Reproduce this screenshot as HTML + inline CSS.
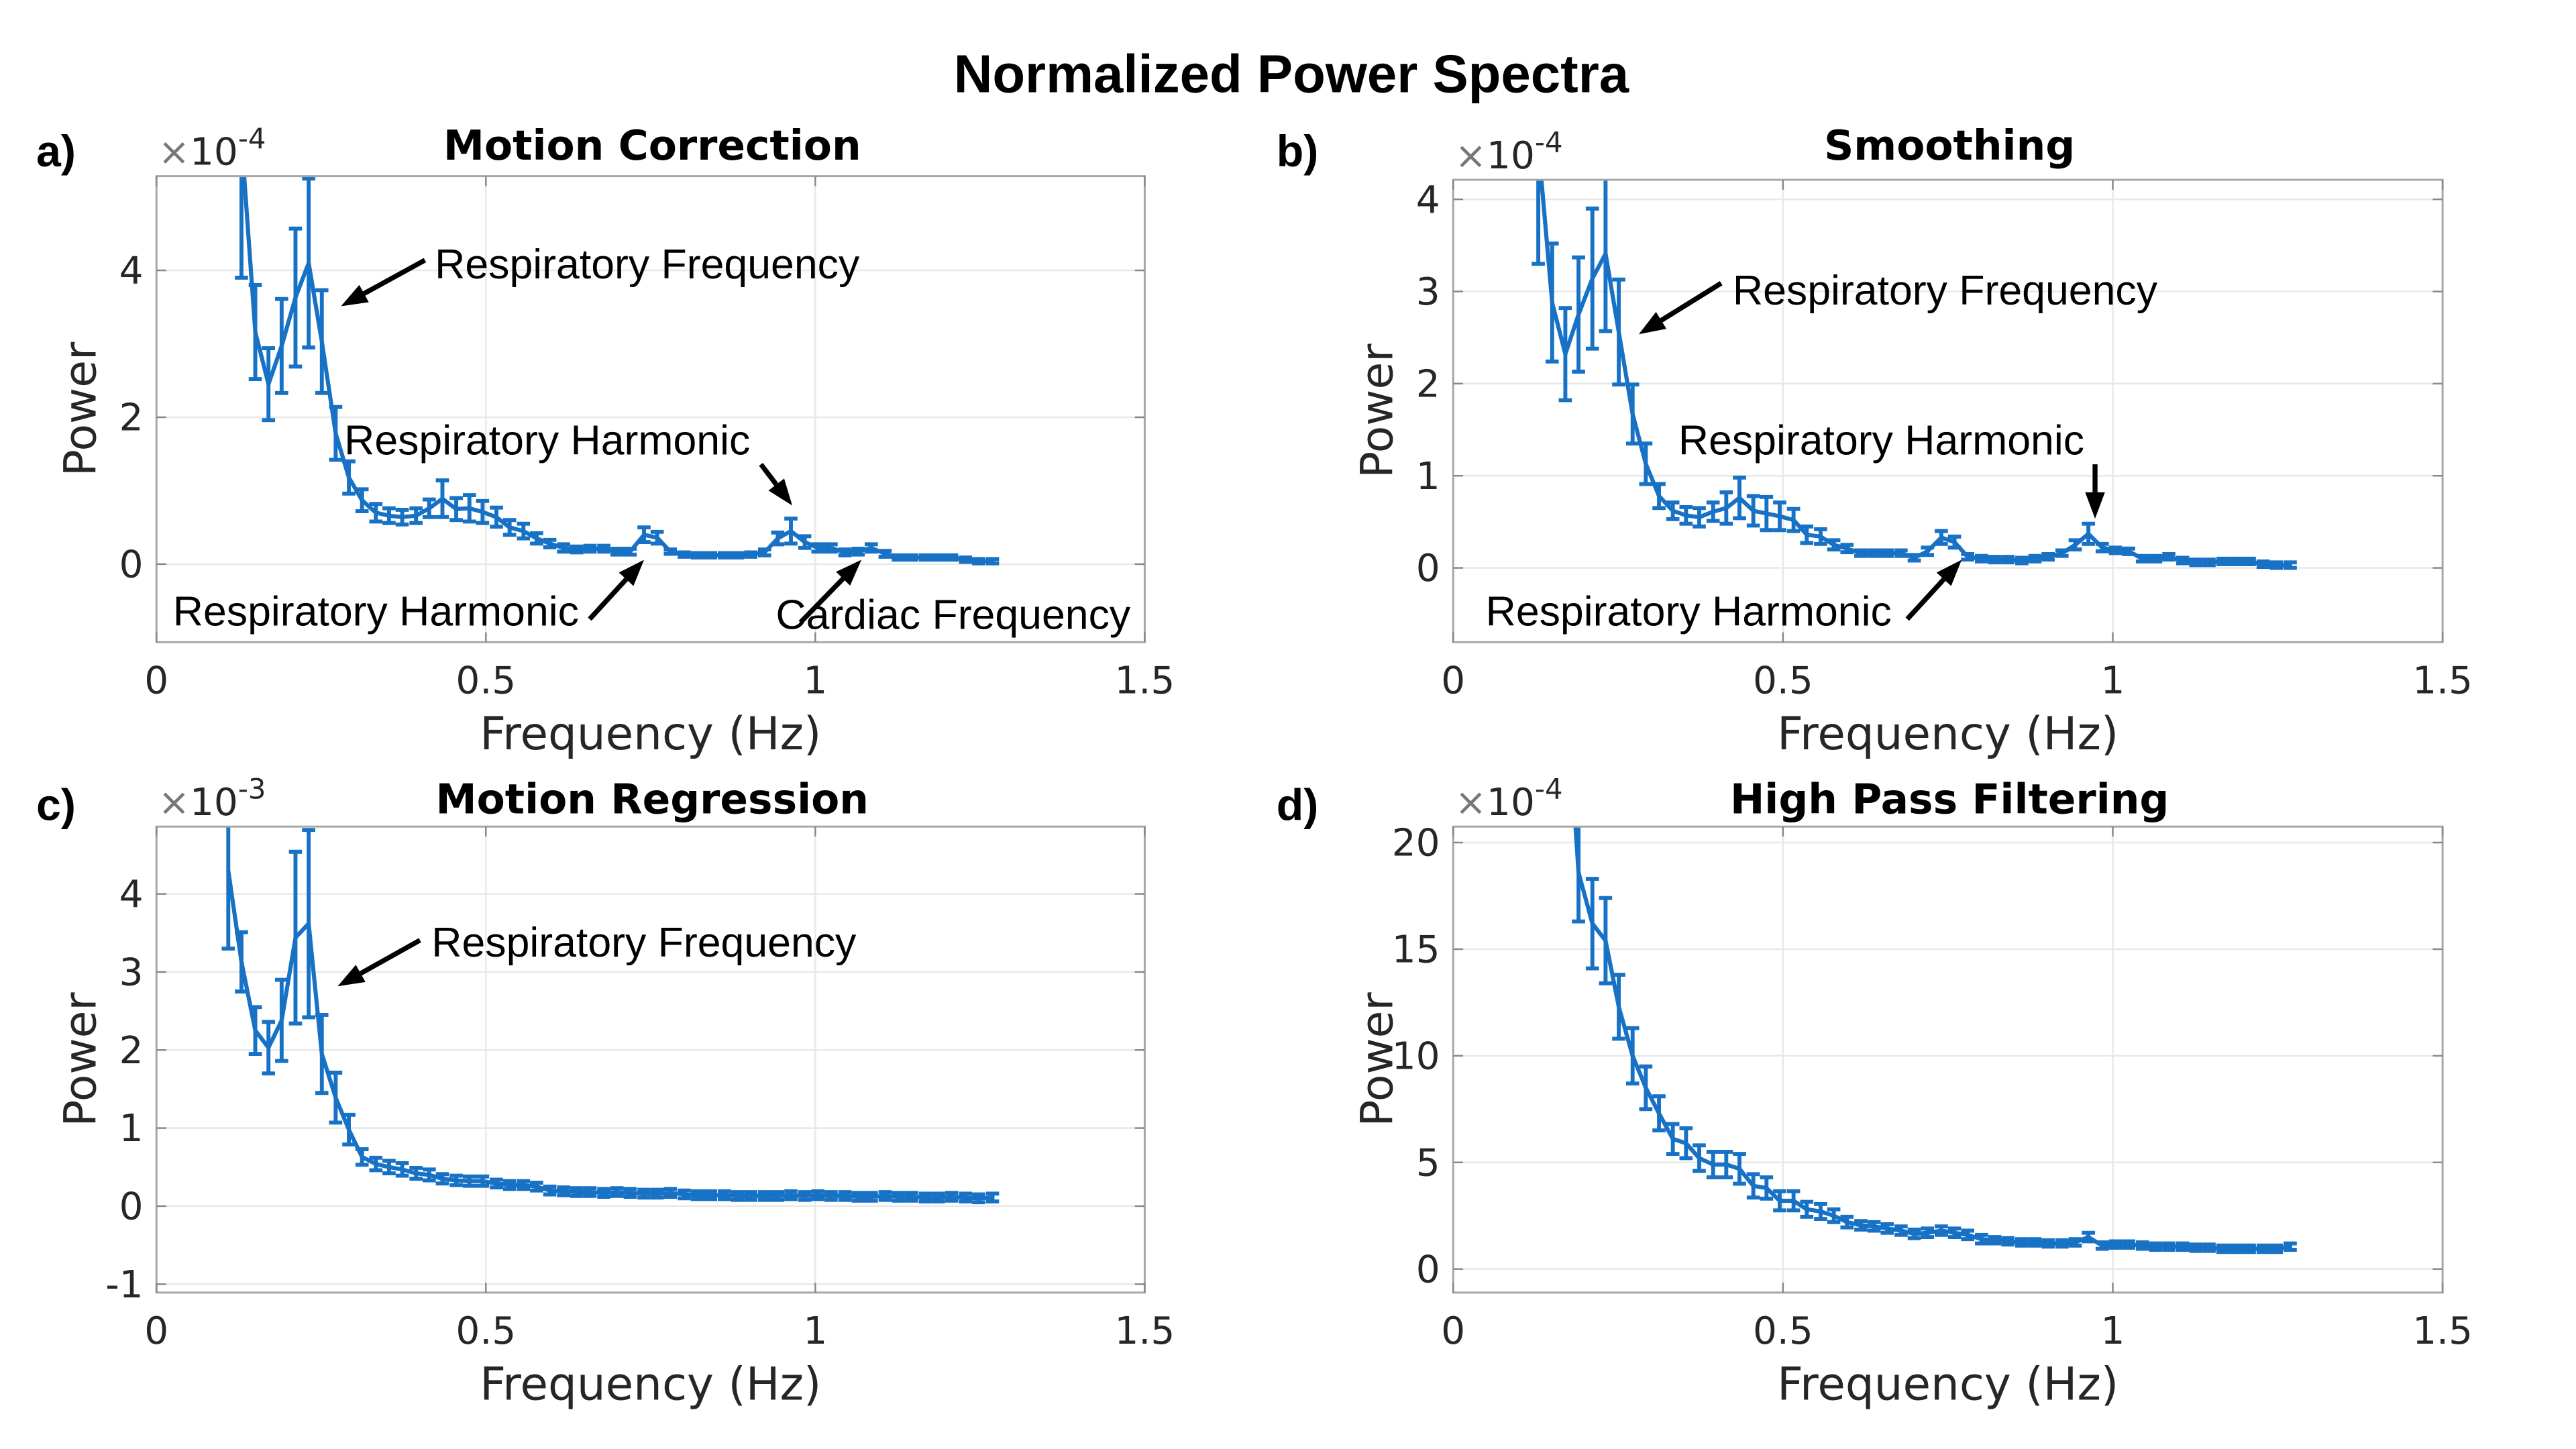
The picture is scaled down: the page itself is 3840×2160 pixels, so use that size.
<!DOCTYPE html>
<html><head><meta charset="utf-8"><style>
html,body{margin:0;padding:0;background:#fff}
svg{display:block}
</style></head><body>
<svg id="fig" xmlns="http://www.w3.org/2000/svg" width="3840" height="2160" viewBox="0 0 1564 880" preserveAspectRatio="none">
<rect width="1564" height="880" fill="#fff"/>
<text x="784" y="56" text-anchor="middle" font-family="Liberation Sans, Arial, sans-serif" font-weight="bold" font-size="32.5">Normalized Power Spectra</text>
</svg>
<script>
const freqs = [0.109,0.129,0.150,0.170,0.190,0.211,0.231,0.251,0.272,0.292,0.312,0.333,0.353,0.373,0.394,0.414,0.434,0.455,0.475,0.495,0.516,0.536,0.557,0.577,0.597,0.618,0.638,0.658,0.679,0.699,0.719,0.740,0.760,0.780,0.801,0.821,0.841,0.862,0.882,0.902,0.923,0.943,0.963,0.984,1.004,1.024,1.045,1.065,1.085,1.106,1.126,1.146,1.167,1.187,1.207,1.228,1.248,1.269];
const powerA = [null,5.8,3.16,2.45,2.97,3.63,4.1,3.03,1.78,1.18,0.87,0.70,0.66,0.64,0.66,0.76,0.89,0.75,0.76,0.71,0.64,0.50,0.45,0.35,0.28,0.22,0.20,0.21,0.21,0.17,0.17,0.40,0.36,0.17,0.13,0.12,0.12,0.12,0.12,0.13,0.16,0.35,0.45,0.30,0.22,0.22,0.16,0.17,0.22,0.14,0.09,0.09,0.09,0.09,0.09,0.06,0.04,0.04];
const errA = [null,1.9,0.64,0.49,0.64,0.94,1.15,0.7,0.36,0.22,0.15,0.12,0.1,0.1,0.1,0.12,0.25,0.15,0.18,0.15,0.13,0.1,0.1,0.07,0.05,0.05,0.04,0.04,0.04,0.04,0.04,0.1,0.08,0.03,0.03,0.03,0.03,0.03,0.03,0.03,0.04,0.08,0.17,0.08,0.05,0.05,0.04,0.04,0.05,0.04,0.03,0.03,0.03,0.03,0.03,0.03,0.03,0.03];
const powerB = [null,4.6,2.88,2.32,2.75,3.14,3.41,2.56,1.67,1.13,0.78,0.62,0.57,0.55,0.61,0.65,0.76,0.62,0.59,0.56,0.52,0.36,0.34,0.25,0.21,0.16,0.16,0.16,0.16,0.11,0.18,0.33,0.28,0.12,0.10,0.09,0.09,0.08,0.10,0.12,0.16,0.25,0.37,0.22,0.19,0.18,0.10,0.10,0.12,0.08,0.06,0.06,0.07,0.07,0.07,0.04,0.03,0.03];
const errB = [null,1.3,0.64,0.5,0.62,0.76,0.84,0.57,0.32,0.22,0.13,0.09,0.09,0.1,0.1,0.17,0.22,0.16,0.18,0.15,0.12,0.09,0.08,0.05,0.04,0.03,0.03,0.03,0.03,0.03,0.04,0.07,0.06,0.03,0.03,0.03,0.03,0.03,0.03,0.03,0.03,0.05,0.11,0.04,0.03,0.03,0.03,0.03,0.03,0.03,0.03,0.03,0.03,0.03,0.03,0.03,0.03,0.03];
const powerC = [4.3,3.13,2.25,2.03,2.38,3.44,3.62,1.95,1.39,0.98,0.63,0.54,0.50,0.47,0.42,0.40,0.35,0.33,0.32,0.32,0.29,0.27,0.27,0.25,0.20,0.19,0.18,0.18,0.17,0.18,0.17,0.16,0.16,0.17,0.15,0.14,0.14,0.14,0.13,0.13,0.13,0.13,0.14,0.13,0.14,0.13,0.13,0.12,0.12,0.13,0.12,0.12,0.11,0.11,0.12,0.11,0.10,0.11];
const errC = [1.0,0.38,0.3,0.33,0.52,1.1,1.2,0.5,0.32,0.19,0.1,0.08,0.08,0.08,0.07,0.07,0.06,0.06,0.06,0.06,0.05,0.05,0.05,0.05,0.05,0.05,0.05,0.05,0.05,0.05,0.05,0.05,0.05,0.05,0.05,0.05,0.05,0.05,0.05,0.05,0.05,0.05,0.05,0.05,0.05,0.05,0.05,0.05,0.05,0.05,0.05,0.05,0.05,0.05,0.05,0.05,0.05,0.05];
const powerD = [null,null,null,28,18.6,16.2,15.4,12.3,10.0,8.5,7.3,6.1,5.9,5.2,4.9,4.9,4.7,3.9,3.8,3.2,3.2,2.8,2.7,2.5,2.2,2.05,2.0,1.9,1.8,1.65,1.7,1.8,1.7,1.6,1.4,1.35,1.3,1.25,1.25,1.2,1.2,1.25,1.5,1.1,1.15,1.15,1.1,1.05,1.05,1.05,1.0,1.0,0.95,0.95,0.95,0.95,0.95,1.05];
const errD = [null,null,null,3,2.3,2.1,2.0,1.5,1.3,1.0,0.8,0.7,0.7,0.6,0.6,0.6,0.7,0.55,0.5,0.45,0.45,0.35,0.35,0.3,0.25,0.2,0.2,0.2,0.2,0.2,0.2,0.2,0.2,0.2,0.2,0.15,0.15,0.15,0.15,0.15,0.15,0.15,0.2,0.15,0.15,0.15,0.15,0.15,0.15,0.15,0.15,0.15,0.15,0.15,0.15,0.15,0.15,0.15];
const xTicks = [0,0.5,1,1.5];
const xTickLabels = ["0","0.5","1","1.5"];
const yTicksA = [0,2,4];
const yTicksB = [0,1,2,3,4];
const yTicksC = [-1,0,1,2,3,4];
const yTicksD = [0,5,10,15,20];

const NS = "http://www.w3.org/2000/svg";
const svg = document.getElementById('fig');
const BLUE = "#1771c4";
function mk(tag, attrs, parent) {
  const e = document.createElementNS(NS, tag);
  for (const k in attrs) e.setAttribute(k, attrs[k]);
  (parent || svg).appendChild(e);
  return e;
}
const panels = [
  {id:'a', letter:'a)', title:'Motion Correction', exp:'-4', L:95, R:695, T:107, B:390, y0:342.6, yu:44.6, ticks:yTicksA, p:powerA, e:errA, lx:22, ly:101, ty:97},
  {id:'b', letter:'b)', title:'Smoothing', exp:'-4', L:882.3, R:1483, T:109.2, B:390, y0:344.9, yu:55.96, ticks:yTicksB, p:powerB, e:errB, lx:775, ly:101, ty:97},
  {id:'c', letter:'c)', title:'Motion Regression', exp:'-3', L:95, R:695, T:502, B:785, y0:732.5, yu:47.4, ticks:yTicksC, p:powerC, e:errC, lx:22, ly:498, ty:494},
  {id:'d', letter:'d)', title:'High Pass Filtering', exp:'-4', L:882.3, R:1483, T:502, B:785, y0:770.7, yu:12.95, ticks:yTicksD, p:powerD, e:errD, lx:775, ly:498, ty:494}
];
const TF = "DejaVu Sans, Liberation Sans, sans-serif";
panels.forEach(P => {
  const g = mk('g', {});
  
  
  const xs = f => P.L + (P.R - P.L) * f / 1.5;
  const ys = v => P.y0 - v * P.yu;
  const defs = mk('defs', {}, g);
  const cp = mk('clipPath', {id: 'clip-' + P.id}, defs);
  mk('rect', {x: P.L, y: P.T, width: P.R - P.L, height: P.B - P.T}, cp);
  mk('rect', {x: P.L, y: P.T, width: P.R - P.L, height: P.B - P.T, fill: '#fff'}, g);
  xTicks.forEach(t => {
    const gl = mk('line', {x1: xs(t), x2: xs(t), y1: P.T, y2: P.B, stroke: '#e8e8e8', 'stroke-width': 1}, g);
    
    
  });
  P.ticks.forEach(t => {
    const gl = mk('line', {x1: P.L, x2: P.R, y1: ys(t), y2: ys(t), stroke: '#e8e8e8', 'stroke-width': 1}, g);
    
    
  });
  const dg = mk('g', {'clip-path': 'url(#clip-' + P.id + ')'}, g);
  
  
  let d = '';
  let pen = false;
  freqs.forEach((f, i) => {
    const v = P.p[i];
    if (v === null) { pen = false; return; }
    d += (pen ? 'L' : 'M') + xs(f).toFixed(2) + ' ' + ys(v).toFixed(2) + ' ';
    pen = true;
  });
  const ln = mk('path', {d: d, fill: 'none', stroke: BLUE, 'stroke-width': 2.5, 'stroke-linejoin': 'round'}, dg);
  
  
  freqs.forEach((f, i) => {
    const v = P.p[i], e = P.e[i];
    if (v === null) return;
    const x = xs(f), y1 = ys(v + e), y2 = ys(v - e);
    const eb = mk('path', {d: `M${x} ${y1} L${x} ${y2} M${x-4} ${y1} L${x+4} ${y1} M${x-4} ${y2} L${x+4} ${y2}`, fill: 'none', stroke: BLUE, 'stroke-width': 2.4}, dg);
    
    
  });
  const bx = mk('rect', {x: P.L, y: P.T, width: P.R - P.L, height: P.B - P.T, fill: 'none', stroke: '#a6a6a6', 'stroke-width': 1.2}, g);
  
  
  xTicks.forEach((t, k) => {
    mk('line', {x1: xs(t), x2: xs(t), y1: P.B, y2: P.B - 6, stroke: '#888', 'stroke-width': 1}, g);
    mk('line', {x1: xs(t), x2: xs(t), y1: P.T, y2: P.T + 6, stroke: '#888', 'stroke-width': 1}, g);
    const tl = mk('text', {x: xs(t), y: P.B + 31, 'text-anchor': 'middle', 'font-family': TF, 'font-size': 23, fill: '#262626'}, g);
    tl.textContent = xTickLabels[k];
    
    
  });
  P.ticks.forEach(t => {
    mk('line', {x1: P.L, x2: P.L + 6, y1: ys(t), y2: ys(t), stroke: '#888', 'stroke-width': 1}, g);
    mk('line', {x1: P.R, x2: P.R - 6, y1: ys(t), y2: ys(t), stroke: '#888', 'stroke-width': 1}, g);
    const tl = mk('text', {x: P.L - 8, y: ys(t) + 8, 'text-anchor': 'end', 'font-family': TF, 'font-size': 23, fill: '#262626'}, g);
    tl.textContent = String(t);
    
    
  });
  const ex = mk('text', {x: P.L + 1, y: P.T - 7, 'font-family': TF, 'font-size': 23, fill: '#262626'}, g);
  ex.innerHTML = '<tspan fill="#777">×</tspan>10<tspan font-size="17" dy="-10">' + P.exp + '</tspan>';
  
  
  const xl = mk('text', {x: (P.L + P.R) / 2, y: P.B + 65, 'text-anchor': 'middle', 'font-family': TF, 'font-size': 27.5, fill: '#262626'}, g);
  xl.textContent = 'Frequency (Hz)';
  
  
  const cy = (P.T + P.B) / 2;
  const yl = mk('text', {x: P.L - 37, y: cy, 'text-anchor': 'middle', 'font-family': TF, 'font-size': 27, fill: '#262626', transform: `rotate(-90 ${P.L - 37} ${cy})`}, g);
  yl.textContent = 'Power';
  
  
  const tt = mk('text', {x: (P.L + P.R) / 2 + 1, y: P.ty, 'text-anchor': 'middle', 'font-family': TF, 'font-weight': 'bold', 'font-size': 25, fill: '#000'}, g);
  tt.textContent = P.title;
  
  
  const lt = mk('text', {x: P.lx, y: P.ly, 'font-family': 'Liberation Sans, Arial, sans-serif', 'font-weight': 'bold', 'font-size': 27, fill: '#000'}, g);
  lt.textContent = P.letter;
  
  
});

function annot(text, tx, ty, x1, y1, x2, y2) {
  const g = mk('g', {});
  
  
  const t = mk('text', {x: tx, y: ty, 'font-family': 'Liberation Sans, Arial, sans-serif', 'font-size': 25.5, fill: '#000'}, g);
  t.textContent = text;
  const ang = Math.atan2(y2 - y1, x2 - x1);
  const hl = 16, hw = 6;
  const bx = x2 - hl * Math.cos(ang), by = y2 - hl * Math.sin(ang);
  mk('line', {x1: x1, y1: y1, x2: bx, y2: by, stroke: '#000', 'stroke-width': 3}, g);
  const px = -Math.sin(ang) * hw, py = Math.cos(ang) * hw;
  mk('polygon', {points: `${x2},${y2} ${bx+px},${by+py} ${bx-px},${by-py}`, fill: '#000'}, g);
}
annot('Respiratory Frequency', 264, 169, 258, 158, 207, 186);
annot('Respiratory Harmonic', 209, 276, 462, 282, 481, 307);
annot('Respiratory Harmonic', 105, 380, 358, 376, 391, 340);
annot('Cardiac Frequency', 471, 382, 486, 378, 523, 340);
annot('Respiratory Frequency', 1052, 185, 1045, 172, 995, 203);
annot('Respiratory Harmonic', 1019, 276, 1272, 282, 1272, 315);
annot('Respiratory Harmonic', 902, 380, 1158, 376, 1191, 340);
annot('Respiratory Frequency', 262, 581, 255, 571, 205, 599);
</script>
</body></html>
